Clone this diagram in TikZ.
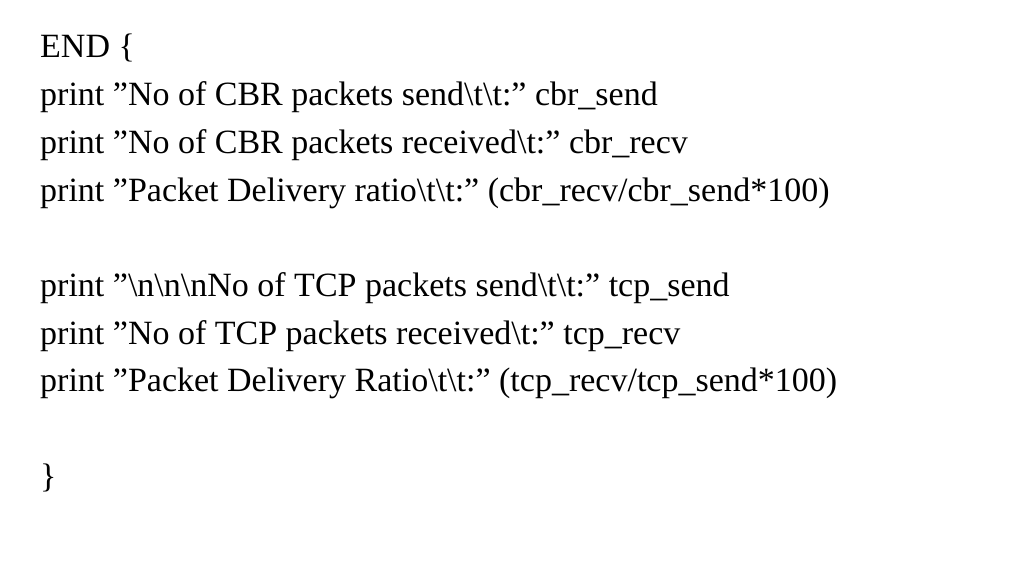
\documentclass[tikz,border=0pt]{standalone}
\usepackage{fontspec}
\setmainfont{Liberation Serif}
\newcommand{\bs}{\textbackslash}
\newcommand{\q}{\symbol{34}}
\begin{document}
\begin{tikzpicture}[x=1pt,y=1pt,line/.style={anchor=base west,inner sep=0pt,font=\fontsize{34}{34}\selectfont}]
\useasboundingbox (0,0) rectangle (1024,576);
\node[line] (l1) at (40,518) {END \{};
\node[line] (l2) at (40,470.3) {print \q No of CBR packets send\bs t\bs t:\q{} cbr\_send};
\node[line] (l3) at (40,422.6) {print \q No of CBR packets received\bs t:\q{} cbr\_recv};
\node[line] (l4) at (40,374.9) {print \q Packet Delivery ratio\bs t\bs t:\q{} (cbr\_recv/cbr\_send*100)};
\node[line] (l5) at (40,279.5) {print \q\bs n\bs n\bs nNo of TCP packets send\bs t\bs t:\q{} tcp\_send};
\node[line] (l6) at (40,231.8) {print \q No of TCP packets received\bs t:\q{} tcp\_recv};
\node[line] (l7) at (40,184.1) {print \q Packet Delivery Ratio\bs t\bs t:\q{} (tcp\_recv/tcp\_send*100)};
\node[line] (l8) at (40,88.7) {\}};
\end{tikzpicture}
\end{document}
